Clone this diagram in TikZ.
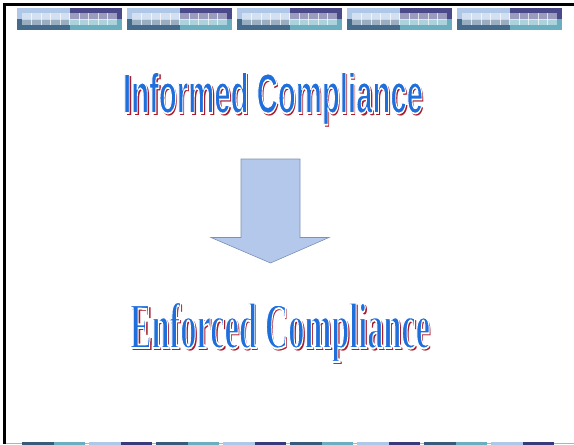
\documentclass[tikz,border=0pt]{standalone}
\usepackage{fontspec}
\setmainfont{Liberation Serif}
\newfontfamily\warsans{Liberation Sans}
\newfontfamily\warserif{Liberation Serif}
\usepackage{graphicx}
\definecolor{tlight}{HTML}{B0C8E8}
\definecolor{tdark}{HTML}{446A8C}
\definecolor{tpurple}{HTML}{4A4A8A}
\definecolor{tteal}{HTML}{6AAEC0}
\definecolor{bdark}{HTML}{3A5A7A}
\definecolor{bpurple}{HTML}{3A3A7A}
\definecolor{wablue}{HTML}{1E6EDC}
\definecolor{wared}{HTML}{A81C2C}
\definecolor{arrfill}{HTML}{B4C8EC}
\definecolor{arrline}{HTML}{7C92B4}
\tikzset{
  watext/.style={anchor=base west, inner sep=0pt, outer sep=0pt},
}
\newcommand\wtop[1]{\resizebox{300pt}{41pt}{\warsans\bfseries #1}}
\newcommand\wbot[1]{\resizebox{300pt}{46pt}{\warserif\bfseries #1}}
% word art: red shadow copy, then blue face stroked in white
\newcommand\wlayer[4]{\makebox[0pt][l]{\hspace*{#1}\raisebox{#2}{\color{#3}#4}}}
\newcommand\wordart[1]{%
  \wlayer{2pt}{-2pt}{wared}{#1}%
  {\color{wablue}\special{pdf:literal direct 2 Tr 1 1 1 RG 0.3 w}#1\special{pdf:literal direct 0 Tr 1 w}}}
\begin{document}
\begin{tikzpicture}[x=1pt,y=-1pt]
\useasboundingbox (0,0) rectangle (574,445);
\fill[white] (0,0) rectangle (574,445);
% borders
\fill[black] (3,3) rectangle (574,6);
\fill[black] (3,3) rectangle (6,444);
\draw[gray!60, line width=0.6pt] (6,443.5) -- (574,443.5);
% top tiles
\foreach \i in {0,...,4}{
  \begin{scope}[shift={(17+110*\i,8)}]
    \fill[tlight] (0,0) rectangle (53,11);
    \fill[tdark] (0,11) rectangle (53,22);
    \fill[tpurple] (53,0) rectangle (105,11);
    \fill[tteal] (53,11) rectangle (105,22);
    \fill[white, opacity=0.45] (5,5) rectangle (100,17);
    \foreach \k in {1,...,9}{
      \draw[white, opacity=0.7, line width=0.6pt] (5+9.5*\k,5) -- (5+9.5*\k,17);
    }
    \draw[white, opacity=0.5, line width=0.6pt] (5,11) -- (100,11);
  \end{scope}
}
% bottom bars
\foreach \j in {0,...,7}{
  \pgfmathtruncatemacro\parity{mod(\j,2)}
  \ifnum\parity=0
    \fill[bdark] (22+67*\j,442) rectangle (54+67*\j,445);
    \fill[tteal] (54+67*\j,442) rectangle (85+67*\j,445);
  \else
    \fill[tlight] (22+67*\j,442) rectangle (54+67*\j,445);
    \fill[bpurple] (54+67*\j,442) rectangle (85+67*\j,445);
  \fi
}
% arrow
\draw[fill=arrfill, draw=arrline, line width=0.6pt, line join=miter]
  (241,159) -- (300,159) -- (300,237.5) -- (329,237.5) -- (270.5,263) -- (211,237.5) -- (241,237.5) -- cycle;
% texts
\node[watext] (informed) at (123,113) {\wordart{\wtop{Informed Compliance}}};
\node[watext] (enforced) at (130,348) {\wordart{\wbot{Enforced Compliance}}};
\end{tikzpicture}
\end{document}
